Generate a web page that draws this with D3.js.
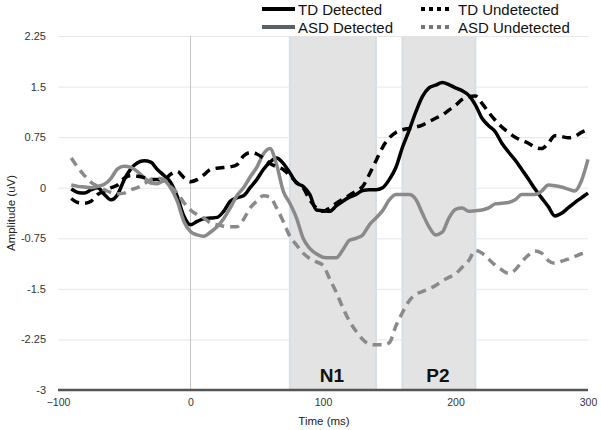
<!DOCTYPE html>
<html>
<head>
<meta charset="utf-8">
<script src="https://cdn.jsdelivr.net/npm/d3@7"></script>
<style>
  body { margin: 0; background: #fff; }
  svg { display: block; font-family: "Liberation Sans", Arial, sans-serif; }
</style>
</head>
<body>
<script>
// time points (ms), every 5 ms from -90 to 300
const times = d3.range(-90, 301, 5);

const tdDetected = [-0.02, -0.07, -0.08, -0.03, 0.0, -0.1, -0.18, -0.1, 0.12, 0.28,
  0.37, 0.40, 0.38, 0.27, 0.18, 0.08, -0.13, -0.42, -0.55, -0.5,
  -0.46, -0.45, -0.44, -0.35, -0.2, -0.15, -0.12, 0.0, 0.12, 0.27,
  0.38, 0.44, 0.36, 0.22, 0.07, 0.02, -0.1, -0.33, -0.34, -0.35,
  -0.27, -0.2, -0.14, -0.1, -0.04, -0.03, -0.03, 0.0, 0.12, 0.3,
  0.6, 0.85, 1.12, 1.35, 1.48, 1.52, 1.56, 1.53, 1.48, 1.44,
  1.37, 1.23, 1.03, 0.92, 0.83, 0.66, 0.53, 0.41, 0.27, 0.13,
  -0.02, -0.15, -0.28, -0.42, -0.38, -0.3, -0.22, -0.15, -0.08];

const asdDetected = [0.04, 0.02, 0.01, 0.0, 0.02, 0.05, 0.14, 0.28, 0.32, 0.3,
  0.24, 0.15, 0.07, 0.06, 0.1, 0.0, -0.2, -0.5, -0.65, -0.7,
  -0.72, -0.66, -0.58, -0.46, -0.3, -0.12, 0.0, 0.16, 0.3, 0.5,
  0.58, 0.34, -0.05, -0.23, -0.45, -0.75, -0.9, -0.98, -1.03, -1.04,
  -1.04, -0.92, -0.78, -0.75, -0.7, -0.55, -0.45, -0.34, -0.18, -0.1,
  -0.1, -0.1, -0.17, -0.38, -0.58, -0.7, -0.66, -0.45, -0.32, -0.3,
  -0.35, -0.34, -0.33, -0.3, -0.24, -0.23, -0.22, -0.18, -0.1, -0.1,
  -0.1, -0.05, 0.04, 0.03, 0.01, -0.02, -0.05, 0.1, 0.42];

const tdUndetected = [-0.16, -0.22, -0.23, -0.2, -0.1, -0.05, 0.0, 0.04, 0.14, 0.18,
  0.17, 0.15, 0.12, 0.12, 0.12, 0.2, 0.24, 0.15, 0.09, 0.12,
  0.19, 0.27, 0.29, 0.3, 0.31, 0.34, 0.47, 0.52, 0.5, 0.44,
  0.36, 0.31, 0.27, 0.18, 0.08, 0.0, -0.18, -0.3, -0.35, -0.3,
  -0.23, -0.17, -0.11, -0.05, 0.02, 0.2, 0.4, 0.6, 0.74, 0.82,
  0.86, 0.88, 0.9, 0.93, 0.98, 1.03, 1.08, 1.15, 1.22, 1.31,
  1.35, 1.36, 1.25, 1.12, 1.0, 0.9, 0.82, 0.75, 0.7, 0.66,
  0.6, 0.58, 0.66, 0.77, 0.76, 0.74, 0.76, 0.82, 0.86];

const asdUndetected = [0.44, 0.3, 0.18, 0.08, 0.02, -0.03, -0.07, -0.09, -0.08, -0.03,
  0.0, 0.06, 0.12, 0.14, 0.12, 0.02, -0.08, -0.22, -0.33, -0.4,
  -0.45, -0.52, -0.55, -0.57, -0.58, -0.58, -0.47, -0.3, -0.2, -0.12,
  -0.14, -0.3, -0.5, -0.72, -0.85, -0.97, -1.05, -1.1, -1.15, -1.35,
  -1.55, -1.78, -1.98, -2.13, -2.25, -2.32, -2.33, -2.33, -2.3, -2.05,
  -1.85, -1.68, -1.58, -1.54, -1.5, -1.45, -1.38, -1.33, -1.28, -1.18,
  -1.08, -0.93, -0.97, -1.06, -1.15, -1.22, -1.27, -1.22, -1.1, -1.0,
  -0.94, -0.97, -1.08, -1.12, -1.09, -1.06, -1.02, -0.98, -0.96];

const yTicks = [-3, -2.25, -1.5, -0.75, 0, 0.75, 1.5, 2.25];
const xTicks = [-100, 0, 100, 200, 300];

const windows = [
  { name: 'N1', from: 75, to: 140 },
  { name: 'P2', from: 160, to: 215 }
];

const seriesNames = ['TD Detected', 'ASD Detected', 'TD Undetected', 'ASD Undetected'];
const seriesValues = [tdDetected, asdDetected, tdUndetected, asdUndetected];
const seriesColors = ['#000000', '#8a8a8a', '#000000', '#8a8a8a'];
const legendColors = ['#000000', '#5a6068', '#000000', '#777777'];
const seriesDashed = [false, false, true, true];

var width = 601,
    height = 430;

var x = d3.scaleLinear().domain([-100, 300]).range([58, 588]);
var y = d3.scaleLinear().domain([-3, 2.25]).range([390, 36]);

var svg = d3.select('body').append('svg')
    .attr('width', width)
    .attr('height', height);

// shaded component windows
svg.selectAll('rect.win')
    .data(windows)
    .enter()
    .append('rect')
    .attr('class', 'win')
    .attr('x', d => x(d.from))
    .attr('y', y(2.25))
    .attr('width', d => x(d.to) - x(d.from))
    .attr('height', y(-3) - y(2.25))
    .attr('fill', '#e3e3e3');

windows.forEach(w => {
    [w.from, w.to].forEach(t => {
        svg.append('line')
            .attr('x1', x(t)).attr('x2', x(t))
            .attr('y1', y(2.25)).attr('y2', y(-3))
            .attr('stroke', '#d6dee6')
            .attr('stroke-width', 2);
    });
});

// gridlines
var yAxis = d3.axisLeft(y)
    .tickValues(yTicks)
    .tickSize(-(x(300) - x(-100)))
    .tickFormat(d => d);

var yAxisGroup = svg.append('g')
    .attr('transform', `translate(${x(-100)}, 0)`)
    .call(yAxis);
yAxisGroup.select('.domain').remove();
yAxisGroup.selectAll('.tick line').attr('stroke', '#e2e2e2').attr('stroke-opacity', 0.85);
yAxisGroup.selectAll('.tick text')
    .attr('x', -12)
    .attr('fill', '#333')
    .style('font-size', '11px');

// zero line
svg.append('line')
    .attr('x1', x(0)).attr('x2', x(0))
    .attr('y1', y(2.25)).attr('y2', y(-3))
    .attr('stroke', '#c4c4c4')
    .attr('stroke-width', 1);

// x axis
var xAxis = d3.axisBottom(x).tickValues(xTicks).tickSize(0).tickFormat(d3.format('d'));
var xAxisGroup = svg.append('g')
    .attr('transform', `translate(0, ${y(-3)})`)
    .call(xAxis);
xAxisGroup.select('.domain').remove();
xAxisGroup.selectAll('.tick text')
    .attr('y', 9)
    .attr('fill', '#333')
    .style('font-size', '10.5px');

svg.append('line')
    .attr('x1', x(-100)).attr('x2', x(300))
    .attr('y1', y(-3)).attr('y2', y(-3))
    .attr('stroke', '#555')
    .attr('stroke-width', 2.5);

// window labels
svg.selectAll('text.win')
    .data(windows)
    .enter()
    .append('text')
    .attr('class', 'win')
    .attr('x', d => x((d.from + d.to) / 2) - 1)
    .attr('y', 382)
    .attr('text-anchor', 'middle')
    .attr('font-weight', 'bold')
    .attr('font-size', '19px')
    .attr('fill', '#111')
    .text(d => d.name);

// series
var line = d3.line()
    .x((d, i) => x(times[i]))
    .y(d => y(d))
    .curve(d3.curveMonotoneX);

seriesValues.forEach((vals, i) => {
    svg.append('path')
        .attr('d', line(vals))
        .attr('fill', 'none')
        .attr('stroke', seriesColors[i])
        .attr('stroke-width', 3.5)
        .attr('stroke-dasharray', seriesDashed[i] ? '9,6' : null)
        .attr('stroke-linejoin', 'round');
});

// axis titles
svg.append('text')
    .attr('x', 324)
    .attr('y', 425)
    .attr('text-anchor', 'middle')
    .attr('font-size', '11.5px')
    .attr('fill', '#222')
    .text('Time (ms)');

svg.append('text')
    .attr('transform', 'translate(15, 213) rotate(-90)')
    .attr('text-anchor', 'middle')
    .attr('font-size', '11.5px')
    .attr('fill', '#222')
    .text('Amplitude (uV)');

// legend
var legendPos = [[262, 9], [262, 27], [421, 9], [421, 27]];
seriesNames.forEach((name, i) => {
    var p = legendPos[i];
    var len = seriesDashed[i] ? 30 : 33;
    svg.append('line')
        .attr('x1', p[0]).attr('x2', p[0] + len)
        .attr('y1', p[1]).attr('y2', p[1])
        .attr('stroke', legendColors[i])
        .attr('stroke-width', 4)
        .attr('stroke-dasharray', seriesDashed[i] ? '4,4' : null);
    svg.append('text')
        .attr('x', seriesDashed[i] ? p[0] + 37 : p[0] + 36)
        .attr('y', p[1] + 6)
        .attr('font-size', '15px')
        .attr('fill', '#111')
        .text(name);
});
</script>
</body>
</html>
